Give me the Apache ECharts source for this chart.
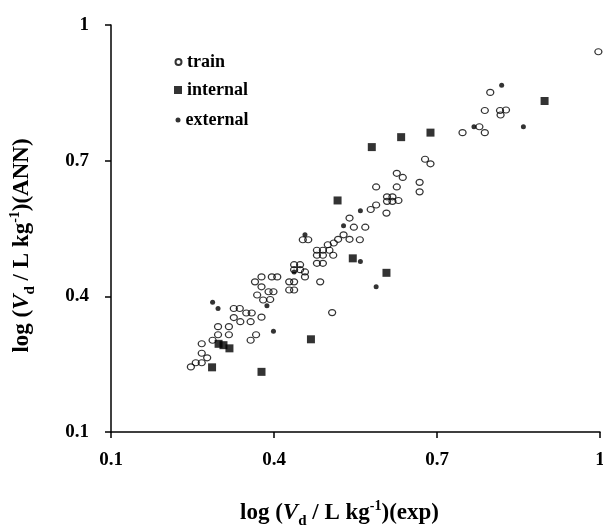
<!DOCTYPE html>
<html>
<head>
<meta charset="utf-8">
<script src="https://cdn.jsdelivr.net/npm/echarts@6/dist/echarts.min.js"></script>
<style>html,body{margin:0;padding:0;background:#fff}#c{width:603px;height:527px}</style>
</head>
<body>
<div id="c"></div>
<script>
var xTicks = ['0.1', '0.4', '0.7', '1'];
var yTicks = ['0.1', '0.4', '0.7', '1'];
var seriesNames = ['train', 'internal', 'external'];

var trainX = [0.247,0.256,0.267,0.277,0.267,0.267,0.287,0.297,0.297,0.317,0.317,0.326,0.326,0.337,0.349,0.359,0.338,0.357,0.377,0.357,0.367,
  0.365,0.377,0.377,0.390,0.369,0.380,0.393,0.399,0.396,0.406,0.428,0.437,0.428,0.437,0.437,0.448,0.437,0.448,0.457,0.457,0.485,
  0.453,0.463,0.479,0.479,0.490,0.490,0.502,0.509,0.479,0.490,0.510,0.499,0.518,0.528,0.539,0.558,0.507,
  0.539,0.547,0.568,0.578,0.588,0.607,0.608,0.618,0.608,0.618,0.629,0.588,0.626,0.626,0.637,0.668,0.668,0.678,0.688,
  0.747,0.778,0.788,0.788,0.798,0.816,0.827,0.817,0.997];
var trainY = [0.244,0.253,0.253,0.264,0.274,0.295,0.303,0.315,0.333,0.315,0.333,0.353,0.373,0.373,0.363,0.363,0.344,0.344,0.354,0.303,0.315,
  0.432,0.443,0.421,0.410,0.403,0.392,0.393,0.410,0.443,0.443,0.432,0.432,0.414,0.414,0.470,0.470,0.459,0.459,0.454,0.443,0.432,
  0.525,0.525,0.502,0.491,0.502,0.491,0.502,0.491,0.473,0.473,0.518,0.514,0.526,0.536,0.526,0.525,0.364,
  0.573,0.553,0.553,0.592,0.602,0.584,0.620,0.620,0.610,0.610,0.612,0.642,0.642,0.672,0.663,0.652,0.631,0.703,0.693,
  0.762,0.775,0.762,0.811,0.851,0.811,0.812,0.801,0.941];

var internalX = [0.580,0.634,0.688,0.898,0.517,0.545,0.607,0.468,0.377,0.318,0.298,0.307,0.286];
var internalY = [0.730,0.752,0.762,0.832,0.612,0.484,0.452,0.305,0.233,0.285,0.295,0.292,0.243];

var externalX = [0.287,0.297,0.387,0.399,0.437,0.457,0.528,0.559,0.559,0.588,0.768,0.819,0.859];
var externalY = [0.387,0.373,0.379,0.323,0.454,0.536,0.556,0.589,0.477,0.421,0.775,0.867,0.775];

function pairs(xs, ys) { return xs.map(function (x, i) { return [x, ys[i]]; }); }

var FONT = '"Liberation Serif", "Times New Roman", serif';
var nameRich = {
  i: { fontStyle: 'italic', fontWeight: 'bold', fontSize: 23, fontFamily: FONT, color: '#000' },
  s: { fontWeight: 'bold', fontSize: 15, fontFamily: FONT, color: '#000', verticalAlign: 'bottom', padding: [0, 0, -4, 0] },
  p: { fontWeight: 'bold', fontSize: 14, fontFamily: FONT, color: '#000', verticalAlign: 'top', padding: [-3, 0, 0, 0] }
};

function axisCommon(ticks, margin) {
  return {
    type: 'value', min: 0.1, max: 1, interval: 0.3,
    axisLine: { show: true, lineStyle: { color: '#000', width: 1.5 } },
    axisTick: { show: true, length: 6, lineStyle: { color: '#000', width: 1.5 } },
    splitLine: { show: false },
    axisLabel: {
      fontFamily: FONT, fontWeight: 'bold', fontSize: 19, color: '#000', margin: margin,
      formatter: function (v) { var k = Math.round((v - 0.1) / 0.3); return ticks[k] !== undefined ? ticks[k] : ''; }
    },
    nameLocation: 'middle'
  };
}

var xAxis = axisCommon(xTicks, 19);
xAxis.name = 'log ({i|V}{s|d} / L kg{p|-1})(exp)';
xAxis.nameGap = 70;
xAxis.nameTextStyle = { fontFamily: FONT, fontWeight: 'bold', fontSize: 23, color: '#000', rich: nameRich, padding: [0, 32, 0, 0] };
var yAxis = axisCommon(yTicks, 22);
yAxis.name = 'log ({i|V}{s|d} / L kg{p|-1})(ANN)';
yAxis.nameGap = 77;
yAxis.nameTextStyle = { fontFamily: FONT, fontWeight: 'bold', fontSize: 23, color: '#000', rich: nameRich, padding: [0, 34, 0, 0] };

function legendFor(name, icon, w, h, left, top) {
  return {
    data: [{ name: name, icon: icon }],
    left: left, top: top, itemWidth: w, itemHeight: h, itemGap: 0, padding: 0,
    selectedMode: false,
    textStyle: { fontFamily: FONT, fontWeight: 'bold', fontSize: 18, color: '#000', lineHeight: 16 }
  };
}

var chart = echarts.init(document.getElementById('c'), null, { renderer: 'canvas' });
chart.setOption({
  animation: false,
  backgroundColor: '#fff',
  grid: { left: 111, right: 3, top: 25, bottom: 95, containLabel: false, outerBoundsMode: 'none' },
  legend: [
    legendFor(seriesNames[0], 'circle', 7, 6, 174.5, 53),
    legendFor(seriesNames[1], 'rect', 8, 8, 174, 81),
    legendFor(seriesNames[2], 'circle', 5, 5, 175.5, 111)
  ],
  xAxis: xAxis,
  yAxis: yAxis,
  series: [
    { name: seriesNames[0], type: 'scatter', data: pairs(trainX, trainY), symbol: 'circle', symbolSize: [7, 6],
      itemStyle: { color: 'rgba(255,255,255,0)', borderColor: '#000', borderWidth: 1.2 } },
    { name: seriesNames[1], type: 'scatter', data: pairs(internalX, internalY), symbol: 'rect', symbolSize: 8,
      itemStyle: { color: '#000' } },
    { name: seriesNames[2], type: 'scatter', data: pairs(externalX, externalY), symbol: 'circle', symbolSize: 5,
      itemStyle: { color: '#000' } }
  ]
});
</script>
</body>
</html>
